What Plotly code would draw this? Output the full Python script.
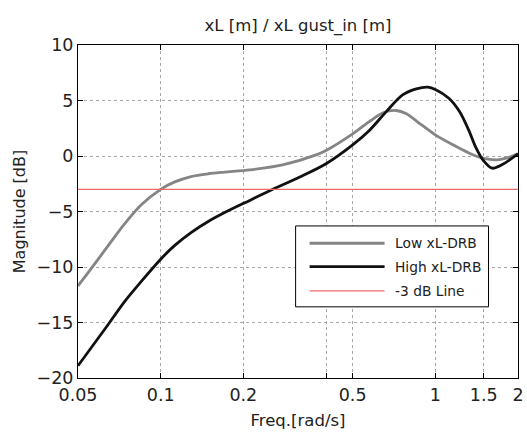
import plotly.graph_objects as go

freq_low = [0.05, 0.056, 0.0643, 0.074, 0.085, 0.1, 0.112, 0.129, 0.149, 0.171, 0.211, 0.278, 0.368, 0.4, 0.5, 0.575, 0.645, 0.72, 0.785, 0.875, 1.0, 1.16, 1.33, 1.49, 1.67, 1.81, 2.0]
mag_low = [-11.7, -10.1, -8.1, -6.1, -4.4, -3.0, -2.35, -1.85, -1.6, -1.45, -1.25, -0.8, 0.1, 0.5, 2.0, 3.1, 3.9, 4.1, 3.8, 2.95, 1.9, 1.0, 0.25, -0.2, -0.35, -0.2, 0.2]

freq_high = [0.05, 0.0643, 0.074, 0.085, 0.1, 0.112, 0.129, 0.149, 0.171, 0.211, 0.256, 0.321, 0.4, 0.5, 0.575, 0.663, 0.76, 0.853, 0.94, 1.0, 1.12, 1.225, 1.33, 1.40, 1.49, 1.61, 1.76, 2.0]
mag_high = [-18.9, -15.2, -13.1, -11.3, -9.3, -8.1, -6.9, -5.9, -5.1, -4.0, -3.0, -1.9, -0.7, 1.0, 2.3, 4.0, 5.5, 6.05, 6.2, 6.0, 5.2, 4.0, 2.2, 0.85, -0.35, -1.1, -0.75, 0.2]

ref_freq = [0.05, 2.0]
ref_mag = [-3, -3]

series_names = ["Low xL-DRB", "High xL-DRB", "-3 dB Line"]
series_colors = ["#858585", "#111111", "#ee6a6a"]
series_widths = [2.8, 2.8, 1.3]

x_tickvals = [0.05, 0.1, 0.2, 0.4, 0.5, 1, 1.5, 2]
x_ticktext = ["0.05", "0.1", "0.2", "", "0.5", "1", "1.5", "2"]
y_tickvals = [-20, -15, -10, -5, 0, 5, 10]

fig = go.Figure()
for xs, ys, name, col, w, smooth in [
    (freq_low, mag_low, series_names[0], series_colors[0], series_widths[0], True),
    (freq_high, mag_high, series_names[1], series_colors[1], series_widths[1], True),
    (ref_freq, ref_mag, series_names[2], series_colors[2], series_widths[2], False),
]:
    line = dict(color=col, width=w)
    if smooth:
        line.update(shape="spline", smoothing=0.85)
    fig.add_trace(go.Scatter(x=xs, y=ys, mode="lines", name=name, line=line, showlegend=False))

# custom legend box (layout decoration, paper coordinates)
leg_x0, leg_x1, leg_y0, leg_y1 = 0.4946, 0.933, 0.2137, 0.4566
row_y = [0.4046, 0.3344, 0.2616]
fig.add_shape(type="rect", xref="paper", yref="paper", x0=leg_x0, x1=leg_x1, y0=leg_y0, y1=leg_y1,
              line=dict(color="black", width=1), fillcolor="white", layer="above")
for i, name in enumerate(series_names):
    fig.add_shape(type="line", xref="paper", yref="paper", x0=0.5264, x1=0.6968, y0=row_y[i], y1=row_y[i],
                  line=dict(color=series_colors[i], width=series_widths[i]), layer="above")
    fig.add_annotation(xref="paper", yref="paper", x=0.7149, y=row_y[i], text=name, showarrow=False,
                       xanchor="left", yanchor="middle", font=dict(size=13.8, color="#222"))

font_family = "DejaVu Sans, Verdana, sans-serif"
fig.update_layout(
    width=527, height=437,
    margin=dict(l=78, r=9, t=45, b=59),
    paper_bgcolor="white", plot_bgcolor="white",
    font=dict(family=font_family, size=17, color="#222"),
    title=dict(text="xL [m] / xL gust_in [m]", x=0.5, xanchor="center", xref="paper",
               y=0.942, yanchor="middle", font=dict(size=16.5, color="#222")),
    showlegend=False,
    xaxis=dict(type="log", range=[-1.30103, 0.30103], tickvals=x_tickvals, ticktext=x_ticktext,
               showgrid=True, gridcolor="#a8a8a8", griddash="dot", gridwidth=1,
               showline=True, linecolor="black", linewidth=1, mirror="ticks",
               ticks="inside", ticklen=5, tickcolor="black", tickfont=dict(size=17.5),
               ticklabelstandoff=1, automargin=False,
               title=dict(text="Freq.[rad/s]", font=dict(size=16.5), standoff=10),
               zeroline=False),
    yaxis=dict(range=[-20, 10], tickvals=y_tickvals, automargin=False,
               showgrid=True, gridcolor="#a8a8a8", griddash="dot", gridwidth=1,
               showline=True, linecolor="black", linewidth=1, mirror="ticks",
               ticks="inside", ticklen=5, tickcolor="black", tickfont=dict(size=17.5),
               title=dict(text="Magnitude [dB]", font=dict(size=16), standoff=6),
               zeroline=False),
)
fig.write_html("out.html")
